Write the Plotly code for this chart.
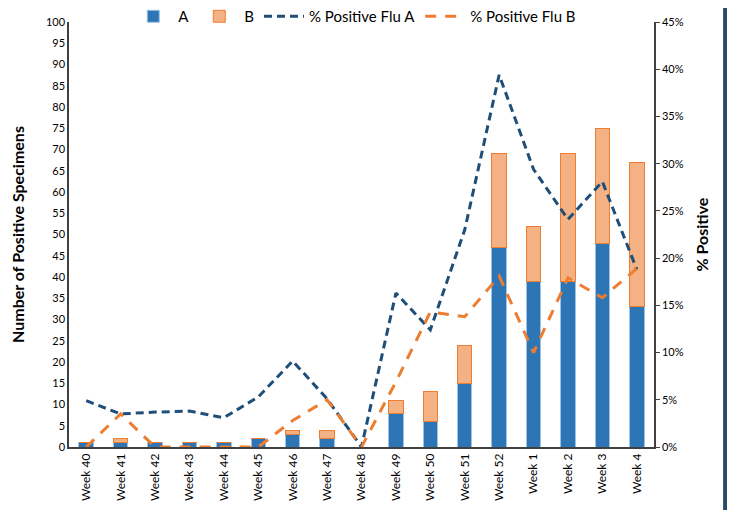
import plotly.graph_objects as go

weeks = ["Week 40", "Week 41", "Week 42", "Week 43", "Week 44", "Week 45", "Week 46",
         "Week 47", "Week 48", "Week 49", "Week 50", "Week 51", "Week 52", "Week 1",
         "Week 2", "Week 3", "Week 4"]
flu_a = [1, 1, 1, 1, 1, 2, 3, 2, 0, 8, 6, 15, 47, 39, 39, 48, 33]
flu_b = [0, 1, 0, 0, 0, 0, 1, 2, 0, 3, 7, 9, 22, 13, 30, 27, 34]
pct_a = [4.9, 3.5, 3.7, 3.8, 3.1, 5.3, 9.1, 5.1, 0.0, 16.3, 12.4, 23.0, 39.4, 29.4, 24.1, 28.1, 18.8]
pct_b = [0.0, 3.5, 0.0, 0.0, 0.0, 0.0, 2.8, 5.0, 0.0, 6.9, 14.3, 13.8, 18.1, 10.0, 17.9, 15.8, 18.9]

left_ticks = list(range(0, 101, 5))
right_ticks = list(range(0, 46, 5))

font = "Lato, 'Open Sans', sans-serif"

fig = go.Figure()
fig.add_trace(go.Bar(x=weeks, y=flu_a, name="A", marker=dict(color="#2E75B6", line=dict(color="#9DC3E6", width=1))))
fig.add_trace(go.Bar(x=weeks, y=flu_b, name="B", marker=dict(color="#F4B183", line=dict(color="#ED7D31", width=1))))
fig.add_trace(go.Scatter(x=weeks, y=pct_a, name="% Positive Flu A", yaxis="y2", mode="lines",
                         line=dict(color="#1F4E79", width=3, dash="8px,5px")))
fig.add_trace(go.Scatter(x=weeks, y=pct_b, name="% Positive Flu B", yaxis="y2", mode="lines",
                         line=dict(color="#ED7D31", width=3, dash="11px,9px")))

# page body adds an 8px offset, so the figure is a bit smaller than the window
fig.update_layout(
    width=727, height=502,
    margin=dict(l=61, r=81, t=14, b=63, autoexpand=False),
    barmode="stack", bargap=0.58,
    plot_bgcolor="white", paper_bgcolor="white",
    font=dict(family=font, color="#000000"),
    showlegend=True,
    legend=dict(orientation="h", x=0.477, xanchor="center", xref="container",
                y=0.983, yanchor="middle", yref="container",
                font=dict(size=15), traceorder="normal", itemwidth=40,
                bgcolor="rgba(0,0,0,0)"),
    xaxis=dict(type="category", tickangle=-90, tickfont=dict(size=12), automargin=False,
               showline=True, linecolor="#404040", linewidth=1.5, ticks="",
               showgrid=False, zeroline=False),
    yaxis=dict(range=[0, 100], tickvals=left_ticks, tickfont=dict(size=11), automargin=False,
               showline=True, linecolor="#404040", linewidth=1.5, ticks="",
               showgrid=False, zeroline=False,
               title=dict(text="<b>Number of Positive Specimens</b>", font=dict(size=16), standoff=26)),
    yaxis2=dict(range=[0, 45], tickvals=right_ticks, ticktext=[f"{v}%" for v in right_ticks],
                overlaying="y", side="right", tickfont=dict(size=11), automargin=False,
                showline=True, linecolor="#404040", linewidth=1.5,
                ticks="outside", ticklen=4, tickcolor="#404040",
                showgrid=False, zeroline=False,
                title=dict(text="<b>% Positive</b>", font=dict(size=16), standoff=14)),
)

# dark frame edge at the right of the picture
fig.add_shape(type="line", xref="paper", yref="paper", x0=1.1215, x1=1.1215, y0=-0.148, y1=1.033,
              line=dict(color="#2B4B6B", width=4), layer="above")

fig.write_html("out.html")
